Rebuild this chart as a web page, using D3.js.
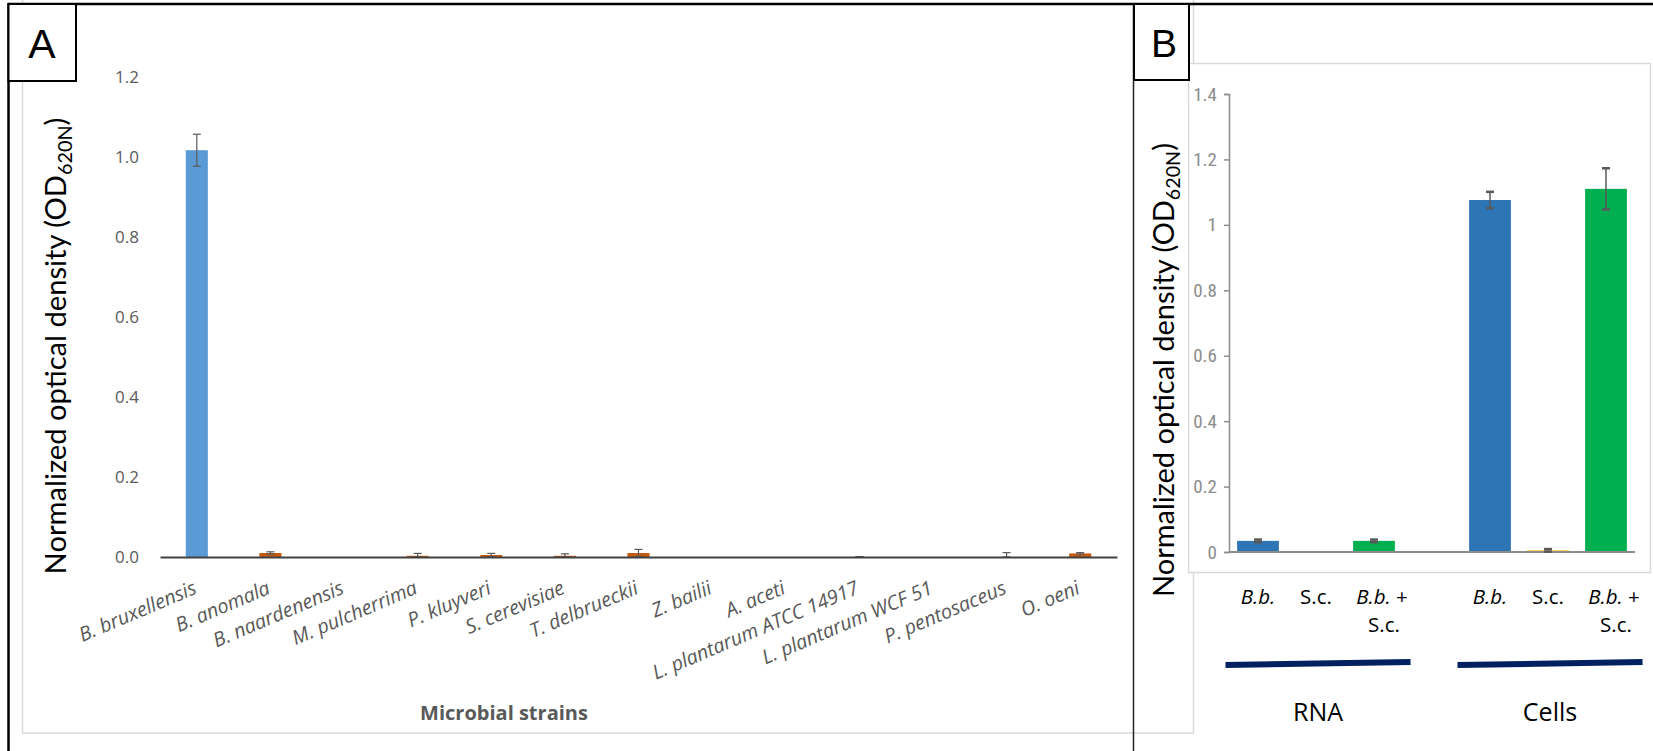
<!DOCTYPE html>
<html><head><meta charset="utf-8">
<script src="https://cdn.jsdelivr.net/npm/d3@7"></script>
<style>html,body{margin:0;padding:0;background:#fff;} svg{display:block}</style>
</head><body>
<svg id="c" width="1653" height="751"></svg>
<script>
// ---------- Panel A data ----------
const strainsA = ["B. bruxellensis","B. anomala","B. naardenensis","M. pulcherrima","P. kluyveri","S. cerevisiae","T. delbrueckii","Z. bailii","A. aceti","L. plantarum ATCC 14917","L. plantarum WCF 51","P. pentosaceus","O. oeni"];
const valuesA = [1.017, 0.010, 0, 0.003, 0.005, 0.003, 0.010, 0, 0, 0, 0, 0, 0.009];
const errorsA = [0.040, 0.003, 0, 0.006, 0.004, 0.005, 0.009, 0, 0, 0.001, 0, 0.011, 0.002];
const ticksA = [0, 0.2, 0.4, 0.6, 0.8, 1.0, 1.2];
const axisTitleA = "Microbial strains";

// ---------- Panel B data ----------
const groupsB = ["RNA", "Cells"];
const samplesB = ["B.b.", "S.c.", "B.b. + S.c."];
const slotsB = ["RNA|B.b.", "RNA|S.c.", "RNA|B.b. + S.c.", "gap", "Cells|B.b.", "Cells|S.c.", "Cells|B.b. + S.c."];
const valuesB = [0.034, 0, 0.034, null, 1.076, 0.005, 1.110];
const errorsB = [0.004, 0, 0.004, null, 0.025, 0.004, 0.063];
const ticksB = [0, 0.2, 0.4, 0.6, 0.8, 1.0, 1.2, 1.4];

const colorA = ["#5B9BD5", "#C55A11"];
const colorB = {"B.b.": "#2E75B6", "S.c.": "#FFC000", "B.b. + S.c.": "#00B050"};

const svg = d3.select("#c");
const FONT = "'Open Sans', 'Noto Sans', sans-serif";

// ---------- chart area A ----------
svg.append("rect").attr("x", 22.5).attr("y", -5).attr("width", 1171).attr("height", 738)
  .attr("fill", "#fff").attr("stroke", "#d9d9d9").attr("stroke-width", 1.5);

// ---------- Panel A ----------
const gA = svg.append("g");
const xA = d3.scaleBand().domain(strainsA).range([160, 1117]).paddingInner(0.7).paddingOuter(0.35);
const yA = d3.scaleLinear().domain([0, 1.2]).range([557, 77]);

const yAxisA = d3.axisLeft(yA).tickValues(ticksA).tickSize(0).tickPadding(21).tickFormat(d3.format(".1f"));
gA.append("g").attr("transform", "translate(160,0)").call(yAxisA)
  .call(g => g.select(".domain").remove())
  .call(g => g.selectAll("text").attr("fill", "#595959").style("font-family", FONT).style("font-size", "17px"));

gA.selectAll("rect.barA").data(strainsA).join("rect").attr("class", "barA")
  .attr("x", d => xA(d)).attr("width", xA.bandwidth())
  .attr("y", (d, i) => yA(valuesA[i])).attr("height", (d, i) => yA(0) - yA(valuesA[i]))
  .attr("fill", (d, i) => i === 0 ? colorA[0] : colorA[1]);

// error bars A
strainsA.forEach((s, i) => {
  if (!errorsA[i]) return;
  const cx = xA(s) + xA.bandwidth() / 2;
  const top = yA(valuesA[i] + errorsA[i]);
  const bot = yA(Math.max(0, valuesA[i] - errorsA[i]));
  const eg = gA.append("g").attr("stroke", "#595959").attr("stroke-width", 1.2);
  eg.append("line").attr("x1", cx).attr("x2", cx).attr("y1", top).attr("y2", bot);
  eg.append("line").attr("x1", cx - 4).attr("x2", cx + 4).attr("y1", top).attr("y2", top);
  eg.append("line").attr("x1", cx - 4).attr("x2", cx + 4).attr("y1", bot).attr("y2", bot);
});

// x axis A (line from axis generator, labels drawn rotated)
const xAxisA = d3.axisBottom(xA).tickSize(0).tickFormat("");
const gxA = gA.append("g").attr("transform", "translate(0,557)").call(xAxisA);
gxA.select(".domain").attr("stroke", "#404040").attr("stroke-width", 2.2);

const labA = gA.selectAll("g.labA").data(strainsA).join("g").attr("class", "labA")
  .attr("transform", d => `translate(${xA(d) + xA.bandwidth() / 2 + 1},593) rotate(-23)`);
const labT = labA.append("text").attr("text-anchor", "end").attr("x", 0).attr("y", 0)
  .attr("fill", "#595959").style("font-family", FONT).style("font-style", "italic")
  .style("font-size", "17px").text(d => d);
// fit font so that the longest label is ~222px long like the reference
{
  const node = labT.nodes()[strainsA.indexOf("L. plantarum ATCC 14917")];
  const len = node.getComputedTextLength();
  const fs = Math.max(14, Math.min(21, 17 * 222 / len));
  labT.style("font-size", fs + "px");
}

gA.append("text").attr("x", 504).attr("y", 720).attr("text-anchor", "middle")
  .attr("fill", "#595959").style("font-family", FONT).style("font-size", "20px").style("font-weight", "bold")
  .text(axisTitleA);

// y title helper
function yTitle(g, x, y, targetLen) {
  let size = 28;
  const t = g.append("text").attr("text-anchor", "middle").attr("fill", "#000")
    .style("font-family", "Lato, 'Open Sans', sans-serif");
  t.append("tspan").text("Normalized optical density (OD");
  const b = t.append("tspan").text("620N");
  const c = t.append("tspan").text(")");
  function apply(sz) {
    t.style("font-size", sz + "px");
    b.style("font-size", (sz * 0.68) + "px").attr("dy", sz * 0.2);
    c.style("font-size", sz + "px").attr("dy", -sz * 0.2);
  }
  apply(size);
  const len = t.node().getComputedTextLength();
  size = size * targetLen / len;
  apply(size);
  t.attr("transform", `translate(${x},${y}) rotate(-90)`);
}
yTitle(svg, 66, 346, 457);

// ---------- Panel B ----------
svg.append("rect").attr("x", 1188.5).attr("y", 63.5).attr("width", 462).attr("height", 509)
  .attr("fill", "#fff").attr("stroke", "#d9d9d9").attr("stroke-width", 1.5);
svg.append("rect").attr("x", 1136).attr("y", 103).attr("width", 52).attr("height", 469).attr("fill", "#fff");

const gB = svg.append("g");
const xB = d3.scaleBand().domain(slotsB).range([1229, 1635]).paddingInner(0.28).paddingOuter(0.14);
const yB = d3.scaleLinear().domain([0, 1.4]).range([552, 94]);

const yAxisB = d3.axisLeft(yB).tickValues(ticksB).tickSize(5).tickPadding(7).tickFormat(d => String(+d.toFixed(1)));
const gyB = gB.append("g").attr("transform", "translate(1229,0)").call(yAxisB);
gyB.select(".domain").attr("stroke", "#8c8c8c").attr("stroke-width", 1.5);
gyB.selectAll(".tick line").attr("stroke", "#8c8c8c").attr("stroke-width", 1.5);
gyB.selectAll(".tick text").attr("fill", "#8c8c8c")
  .style("font-family", "'Liberation Sans Narrow', 'Roboto Condensed', sans-serif")
  .style("font-stretch", "condensed").style("font-size", "19px");

slotsB.forEach((s, i) => {
  if (valuesB[i] === null) return;
  const sample = s.split("|")[1];
  gB.append("rect").attr("x", xB(s)).attr("width", xB.bandwidth())
    .attr("y", yB(valuesB[i])).attr("height", yB(0) - yB(valuesB[i]))
    .attr("fill", colorB[sample]);
});

gB.append("line").attr("x1", 1229).attr("x2", 1635).attr("y1", yB(0)).attr("y2", yB(0))
  .attr("stroke", "#8c8c8c").attr("stroke-width", 2);

// error bars B
slotsB.forEach((s, i) => {
  if (!errorsB[i]) return;
  const cx = xB(s) + xB.bandwidth() / 2;
  const top = yB(valuesB[i] + errorsB[i]);
  const bot = yB(Math.max(0, valuesB[i] - errorsB[i]));
  const eg = gB.append("g").attr("stroke", "#595959");
  eg.append("line").attr("x1", cx).attr("x2", cx).attr("y1", top).attr("y2", bot).attr("stroke-width", 1.5);
  eg.append("line").attr("x1", cx - 4).attr("x2", cx + 4).attr("y1", top).attr("y2", top).attr("stroke-width", 2.5);
  eg.append("line").attr("x1", cx - 4).attr("x2", cx + 4).attr("y1", bot).attr("y2", bot).attr("stroke-width", 2.5);
});

// category labels B
slotsB.forEach(s => {
  if (s === "gap") return;
  const sample = s.split("|")[1];
  const cx = xB(s) + xB.bandwidth() / 2;
  const t = gB.append("text").attr("x", cx).attr("y", 604).attr("text-anchor", "middle")
    .attr("fill", "#000").style("font-family", FONT).style("font-size", "20.5px");
  if (sample === "B.b.") {
    t.append("tspan").style("font-style", "italic").text("B.b.");
  } else if (sample === "S.c.") {
    t.text("S.c.");
  } else {
    t.attr("x", cx + 8);
    t.append("tspan").style("font-style", "italic").text("B.b.");
    t.append("tspan").text(" +");
    gB.append("text").attr("x", cx + 10).attr("y", 632).attr("text-anchor", "middle")
      .attr("fill", "#000").style("font-family", FONT).style("font-size", "20.5px").text("S.c.");
  }
});

// group brackets and labels
groupsB.forEach(gname => {
  const first = xB(gname + "|" + samplesB[0]);
  const last = xB(gname + "|" + samplesB[samplesB.length - 1]) + xB.bandwidth();
  const step = xB.step();
  const x1 = first - 0.2 * step, x2 = last + 0.27 * step;
  gB.append("line").attr("x1", x1).attr("x2", x2).attr("y1", 665).attr("y2", 662)
    .attr("stroke", "#002060").attr("stroke-width", 6);
  gB.append("text").attr("x", (x1 + x2) / 2).attr("y", 721).attr("text-anchor", "middle")
    .attr("fill", "#000").style("font-family", FONT).style("font-size", "25px").text(gname);
});

yTitle(svg, 1174, 370, 454);

// ---------- outer frame & panel boxes ----------
const fr = svg.append("g").attr("fill", "none").attr("stroke", "#000");
fr.append("line").attr("x1", 8).attr("x2", 1653).attr("y1", 4).attr("y2", 4).attr("stroke-width", 2.5);
fr.append("line").attr("x1", 8.5).attr("x2", 8.5).attr("y1", 3).attr("y2", 751).attr("stroke-width", 2.5);
fr.append("line").attr("x1", 1133.5).attr("x2", 1133.5).attr("y1", 3).attr("y2", 751).attr("stroke", "#222").attr("stroke-width", 1.5);
fr.append("rect").attr("x", 8.5).attr("y", 4).attr("width", 67.5).attr("height", 77).attr("fill", "#fff").attr("stroke-width", 2);
fr.append("rect").attr("x", 1134).attr("y", 4).attr("width", 55).attr("height", 76).attr("fill", "#fff").attr("stroke-width", 2);
svg.append("text").attr("x", 42).attr("y", 58).attr("text-anchor", "middle").attr("fill", "#000")
  .style("font-family", "'Liberation Sans', Arial, sans-serif").style("font-size", "41px").text("A");
svg.append("text").attr("x", 1164).attr("y", 57).attr("text-anchor", "middle").attr("fill", "#000")
  .style("font-family", "'Liberation Sans', Arial, sans-serif").style("font-size", "39px").text("B");
</script>
</body></html>
